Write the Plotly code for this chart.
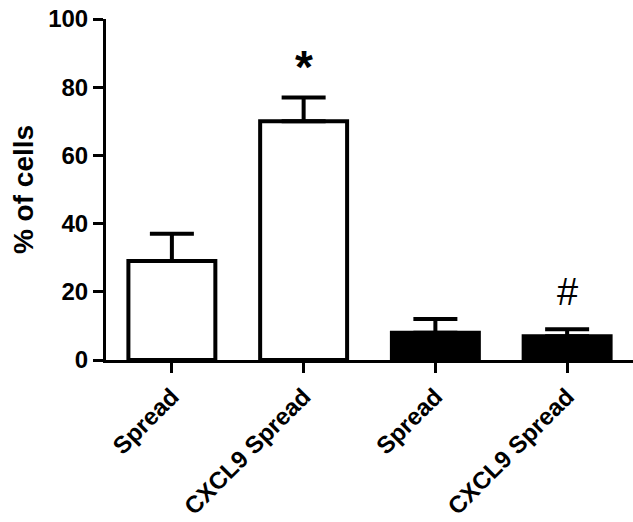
import plotly.graph_objects as go

categories = ["Spread", "CXCL9 Spread", "Spread", "CXCL9 Spread"]
values = [29, 70, 8, 7]
errors = [8, 7, 4, 2]
fills = ["white", "white", "black", "black"]
marks = ["", "*", "", "#"]
y_ticks = [0, 20, 40, 60, 80, 100]

xpos = list(range(len(categories)))
FONT = "Liberation Sans"

fig = go.Figure()
fig.add_trace(go.Bar(
    x=xpos, y=values, width=0.66,
    marker=dict(color=fills, line=dict(color="black", width=4)),
    error_y=dict(type="data", symmetric=False, array=errors,
                 arrayminus=[0] * len(errors), color="black", thickness=4, width=22),
    showlegend=False,
))

mark_style = {"*": dict(size=46, weight="bold", shift=-7),
              "#": dict(size=38, weight="normal", shift=0)}
for i, m in enumerate(marks):
    if m:
        st = mark_style[m]
        fig.add_annotation(x=xpos[i], y=values[i] + errors[i] + 11, text=m,
                           showarrow=False, yanchor="middle", yshift=st["shift"],
                           font=dict(size=st["size"], weight=st["weight"],
                                     color="black", family=FONT))

fig.update_layout(
    width=633, height=522,
    margin=dict(l=106, r=0, t=19, b=162),
    plot_bgcolor="white", paper_bgcolor="white",
    font=dict(family=FONT, color="black"),
)
fig.update_xaxes(
    range=[-0.5, 3.5], tickvals=xpos, ticktext=categories, tickangle=-45,
    showline=True, linecolor="black", linewidth=3, ticks="outside", ticklen=10,
    tickwidth=3, tickcolor="black", showgrid=False, zeroline=False, automargin=False,
    tickfont=dict(size=24, weight="bold", family=FONT),
)
fig.update_yaxes(
    range=[0, 100], tickvals=y_ticks, showline=True, linecolor="black", linewidth=3,
    ticks="outside", ticklen=10, tickwidth=3, tickcolor="black", showgrid=False,
    zeroline=False, automargin=False, tickfont=dict(size=24, weight="bold", family=FONT),
    title=dict(text="% of cells", font=dict(size=28, weight="bold", family=FONT), standoff=7),
)

fig.write_html("out.html", config={"displayModeBar": False},
               post_script="document.body.style.margin='0';")
